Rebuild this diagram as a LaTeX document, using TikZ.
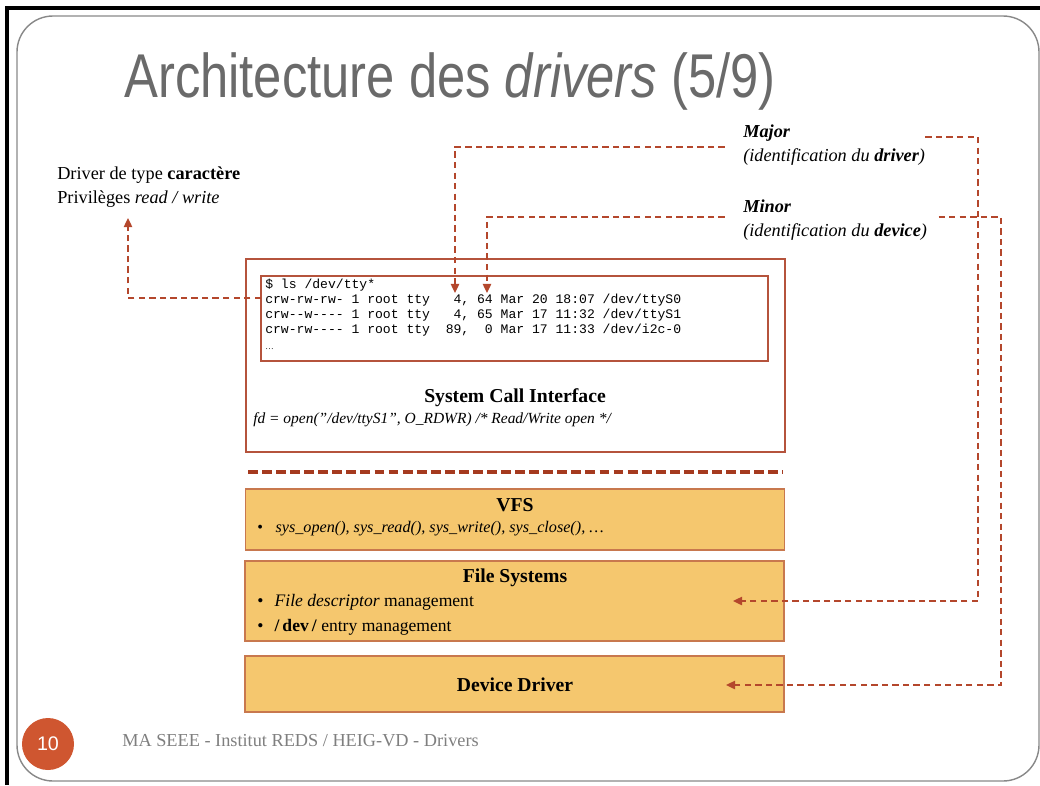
\documentclass[tikz,border=0pt]{standalone}
\usepackage{fontspec}
\setmainfont{Liberation Serif}
\setmonofont{Liberation Mono}
\newfontfamily\titlefont[FakeStretch=0.82]{Liberation Sans}
\newfontfamily\numfont{Liberation Sans}
\usepackage{xcolor}
\usepackage{tikz}
\usetikzlibrary{arrows.meta,positioning,calc}
\definecolor{rust}{HTML}{B4472C}
\definecolor{sepred}{HTML}{A53A1F}
\definecolor{layerfill}{HTML}{F5C76E}
\definecolor{layerline}{HTML}{C8784E}
\definecolor{boxline}{HTML}{B5533C}
\definecolor{slidegray}{HTML}{6A6A6A}
\definecolor{footgray}{HTML}{7F7F7F}
\definecolor{badge}{HTML}{CF5630}
\tikzset{
  layer/.style={rectangle, draw=layerline, fill=layerfill, line width=0.9pt,
                minimum width=13.475cm},
  sysbox/.style={rectangle, draw=boxline, line width=0.9pt, fill=white},
  txt/.style={inner sep=0pt, align=left, font=\fontsize{13}{17}\selectfont},
  hdr/.style={inner sep=0pt, font=\fontsize{14}{17}\selectfont\bfseries},
  term/.style={inner sep=0pt, align=left, font=\fontsize{9.3}{10.6}\selectfont\ttfamily},
  link/.style={-{Triangle[length=6.5pt,width=6pt]}, rust, line width=1pt,
               dash pattern=on 4.5pt off 3pt},
  sep/.style={sepred, line width=2.2pt, dash pattern=on 7pt off 3pt},
}

\begin{document}
\begin{tikzpicture}[x=0.025cm,y=-0.025cm]
\useasboundingbox (0,0) rectangle (1040,785);
% slide frame
\draw[black, line width=2.2pt] (7,785) -- (7,8) -- (1040,8);
\draw[slidegray!80, line width=1pt, rounded corners=0.9cm] (17,16) rectangle (1039,781);
\node[inner sep=0pt, anchor=base west, text=slidegray, font=\fontsize{44}{50}\selectfont\titlefont] (title) at (124,97) {Architecture des \textit{drivers} (5/9)};

% kernel layers
\node[sysbox, minimum width=13.475cm, minimum height=4.825cm] (sci) at (515.5,355.5) {};
\node[sysbox, minimum width=12.675cm, minimum height=2.125cm] (tbox) at (514.5,318.5) {};
\node[term, anchor=north west] (tty) at (265,279) {\$ ls /dev/tty*\\
crw-rw-rw- 1 root tty~~~4, 64 Mar 20 18:07 /dev/ttyS0\\
crw-{}-w-{}-{}-{}- 1 root tty~~~4, 65 Mar 17 11:32 /dev/ttyS1\\
crw-rw-{}-{}-{}- 1 root tty~~89,~~0 Mar 17 11:33 /dev/i2c-0\\[1pt]
{\fontsize{6}{6}\selectfont\rmfamily\dots}};
\node[hdr] (scititle) at (515,398) {System Call Interface};
\node[txt, anchor=west, font=\fontsize{11}{14}\selectfont\itshape] (fdline) at (253,420) {fd = open("/dev/ttyS1", O\_RDWR) /* Read/Write open */};

\draw[sep] (248,472) -- (783,472);

\node[layer, minimum height=1.525cm] (vfs) at (515,519.5) {};
\node[hdr] (vfstitle) at (515,505) {VFS};
\node[txt, anchor=west, font=\fontsize{11.5}{14}\selectfont] (vfsitem) at (257,529) {\textbullet\hspace{9pt}\textit{sys\_open(), sys\_read(), sys\_write(), sys\_close(), \dots}};

\node[layer, minimum height=2cm] (fs) at (514.5,601) {};
\node[hdr] (fstitle) at (515,578) {File Systems};
\node[txt, anchor=west, font=\fontsize{12.5}{15}\selectfont] (fsitem1) at (257,602) {\textbullet\hspace{8pt}\textit{File descriptor} management};
\node[txt, anchor=west, font=\fontsize{12.5}{15}\selectfont] (fsitem2) at (257,627) {\textbullet\hspace{8pt}\textbf{/\,dev\,/} entry management};

\node[layer, minimum height=1.4cm] (dd) at (514.5,684) {};
\node[hdr] (ddtitle) at (515,685) {Device Driver};

% annotations
\node[txt, anchor=west] (chartype) at (57,187) {Driver de type \textbf{caractère}\\Privilèges \textit{read / write}};
\node[txt, anchor=west] (major) at (743,145) {\textbf{\textit{Major}}\\\textit{(identification du \textbf{driver})}};
\node[txt, anchor=west] (minor) at (743,220) {\textbf{\textit{Minor}}\\\textit{(identification du \textbf{device})}};

\coordinate (ttyS0) at (261,298);
\coordinate (chartip) at (128,218);
\coordinate (majtip) at (455,293);
\coordinate (mintip) at (487,293);
\coordinate (fsin) at (733,601);
\coordinate (ddin) at (726,685);

\draw[link] (ttyS0) -| (chartip);
\draw[link, shorten <=13pt] ([yshift=-0.05cm]major.west) -| (majtip);
\draw[link, shorten <=13pt] ([yshift=0.075cm]minor.west) -| (mintip);
\draw[link] ([yshift=0.2cm]major.east) -| (978,601) -- (fsin);
\draw[link, shorten <=8pt] ([yshift=0.075cm]minor.east) -| (1001,685) -- (ddin);

% footer
\node[circle, fill=badge, minimum size=1.3cm, inner sep=0pt, text=white, font=\fontsize{14}{14}\selectfont\numfont] (pgnum) at (48,744) {10};
\node[txt, anchor=west, text=footgray] (footer) at (122,741) {MA SEEE - Institut REDS / HEIG-VD - Drivers};
\end{tikzpicture}
\end{document}
